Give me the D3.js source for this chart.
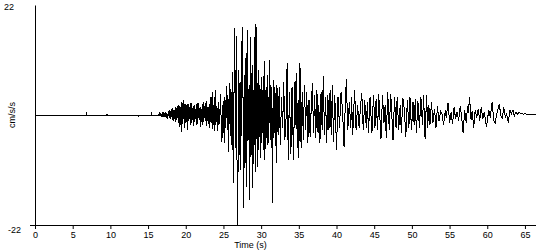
<!DOCTYPE html>
<html>
<head>
<meta charset="utf-8">
<script src="https://cdn.jsdelivr.net/npm/d3@7"></script>
<style>
body { margin: 0; background: #fff; }
</style>
</head>
<body>
<svg id="chart" width="550" height="250"></svg>
<script>
// accelerogram, [time (s), cm/s/s]
var quiet = [[0,0],[6.8,0],[6.85,0.25],[6.9,0],[9.5,0],[9.55,0.2],[9.6,0],[13.7,0],[13.75,-0.15],[13.8,0],
    [15.4,0],[15.45,0.25],[15.5,0],[16.4,0]];

var onset = [[16.5,0.3],[16.6,-0.2],[16.7,0.4],[16.8,-0.3],[16.9,0.2],[17.0,-0.4],[17.1,0.5],[17.2,-0.3],
    [17.3,0.6],[17.4,-0.5],[17.5,0.4],[17.6,-0.7],[17.7,0.8],[17.8,-0.6],[17.9,0.9],[18.0,-0.8],[18.1,1.1],
    [18.2,-0.9],[18.3,1.3],[18.4,-1.2],[18.5,0.9],[18.6,-1.4],[18.7,1.6],[18.8,-1.0],[18.9,1.8],[19.0,-1.5],
    [19.1,2.0],[19.2,-2.4],[19.3,1.5],[19.4,-3.4],[19.5,2.6],[19.6,-1.8],[19.7,3.0],[19.8,-2.5],[19.9,2.2],
    [20.0,-1.6],[20.1,1.9],[20.2,-3.0],[20.3,2.1],[20.4,-1.2],[20.5,1.6],[20.6,-2.0],[20.7,2.4],[20.8,-1.5],
    [20.9,1.3],[21.0,-2.2],[21.1,2.0],[21.2,-1.4],[21.3,1.1],[21.4,-1.9],[21.5,2.4],[21.6,-1.7],[21.7,2.3],
    [21.8,-1.0],[21.9,1.5],[22.0,-2.3],[22.1,1.2],[22.2,-2.0],[22.3,2.5],[22.4,-1.4],[22.5,1.8],[22.6,-1.1],
    [22.7,2.8],[22.8,-2.1],[22.9,1.6],[23.0,-1.8],[23.1,2.2],[23.2,-2.6],[23.3,3.5],[23.4,-1.5],[23.5,4.6],
    [23.6,-2.8],[23.7,2.0],[23.8,-3.2],[23.9,5.0],[24.0,-2.0],[24.1,1.8],[24.2,-3.1],[24.3,2.5],[24.4,-1.9],
    [24.5,-1.2],[24.6,4.2],[24.7,-1.0],[24.8,-5.4],[24.9,1.5]];

var strong = [[25.0,2.8],[25.1,-5.5],[25.2,3.6],[25.3,-2.5],[25.4,5.7],[25.5,-3.0],[25.6,4.0],[25.7,-7.3],
    [25.8,6.4],[25.9,-4.2],[26.0,5.2],[26.1,-6.0],[26.2,8.5],[26.3,-13.6],[26.4,4.0],[26.5,17.3],[26.6,-6.5],
    [26.7,15.8],[26.8,-9.0],[26.9,-22.0],[27.0,9.0],[27.1,-8.0],[27.2,6.5],[27.3,-11.0],[27.4,10.0],[27.5,17.5],
    [27.6,3.0],[27.7,-18.6],[27.8,8.0],[27.9,-9.5],[28.0,12.4],[28.1,-14.3],[28.2,17.0],[28.3,-5.0],[28.4,6.0],
    [28.5,-17.0],[28.6,15.6],[28.7,-8.0],[28.8,10.0],[28.9,-14.5],[29.0,5.0],[29.1,-6.0],[29.2,18.2],[29.3,-11.3],
    [29.4,17.6],[29.5,-10.4],[29.6,9.0],[29.7,-7.0],[29.8,6.0],[29.9,-8.5],[30.0,7.5],[30.1,-5.5],[30.2,5.0],
    [30.3,-7.0],[30.4,10.7],[30.5,-9.0],[30.6,5.0],[30.7,-4.5],[30.8,8.0],[30.9,-6.0],[31.0,-3.0],[31.1,11.0],
    [31.2,-5.0],[31.3,6.0],[31.4,2.0],[31.5,-17.6],[31.6,7.0],[31.7,-4.5],[31.8,5.5],[31.9,3.0],[32.0,-9.5]];

var middle = [[32.1,6.0],[32.25,-4.0],[32.4,5.5],[32.55,-6.0],[32.7,3.5],[32.85,-2.5],[33.0,6.5],[33.15,-5.0],
    [33.3,-1.0],[33.45,10.3],[33.6,-9.0],[33.75,4.5],[33.95,-7.8],[34.1,5.5],[34.3,-9.0],[34.45,6.5],
    [34.5,-2.0],[34.65,8.3],[34.8,-6.5],[34.9,3.0],[35.0,-8.6],[35.15,10.4],[35.3,-6.5],[35.45,4.5],[35.6,-5.0],
    [35.75,6.0],[35.9,-3.0],[36.05,4.5],[36.2,-5.5],[36.35,3.0],[36.5,-4.3],[36.65,1.5],[36.8,6.4],[36.95,-3.5],
    [37.1,4.0],[37.25,-4.5],[37.4,5.0],[37.55,-3.5],[37.65,2.0],[37.8,-5.5],[37.95,4.5],[38.1,-3.0],[38.25,7.7],
    [38.4,-4.0],[38.55,3.5],[38.7,-5.5],[38.85,4.0],[39.0,-3.0],[39.15,5.0],[39.3,-4.0],[39.45,6.0],[39.6,-5.3],
    [39.75,4.0],[39.85,1.0],[40.0,-7.0]];

var coda = [[40.2,3.5],[40.4,-2.5],[40.6,4.5],[40.8,1.0],[41.0,-6.3],[41.15,1.5],[41.3,7.1],[41.5,-3.0],
    [41.7,2.5],[41.9,-2.5],[42.0,3.5],[42.15,-4.0],[42.4,5.0],[42.6,-3.0],[42.8,2.0],[43.0,-2.5],[43.15,1.0],
    [43.35,4.4],[43.55,-3.0],[43.75,3.0],[43.95,-2.5],[44.1,2.5],[44.25,-3.5],[44.45,3.6],[44.7,-3.6],[44.9,4.0],
    [45.1,-2.5],[45.25,3.2],[45.45,-3.0],[45.6,4.2],[45.9,-4.8],[46.1,4.0],[46.3,-1.5],[46.45,2.0],[46.6,-4.6],
    [46.8,4.5],[47.0,-3.0],[47.2,4.2],[47.5,-5.0],[47.7,3.5],[47.9,-2.5],[48.05,3.6],[48.25,-3.0],[48.45,2.0],
    [48.6,-3.5],[48.8,3.4],[49.0,1.0],[49.2,-4.3],[49.4,3.0],[49.6,-2.5],[49.75,3.5],[49.95,-3.0],[50.15,2.5],
    [50.3,-2.0],[50.45,3.2],[50.6,-3.6],[50.8,2.8],[51.0,-2.5],[51.2,3.5],[51.4,-2.0],[51.55,3.9],[51.75,-4.7],
    [51.95,3.9],[52.1,-2.5],[52.25,2.0],[52.4,-2.0],[52.6,2.5],[52.8,-1.5],[53.0,1.2],[53.2,-2.5],[53.4,1.7],
    [53.6,-1.3],[53.8,0.8],[54.0,0.2],[54.2,-2.0],[54.45,1.0],[54.55,-0.5],[54.8,2.4],[55.0,-1.5],[55.2,0.5],
    [55.4,-1.8],[55.6,1.5],[55.8,-0.8],[56.0,0.6],[56.2,-1.2],[56.4,1.7],[56.55,0.3],[56.8,-3.6],[57.0,1.0],
    [57.2,-1.5],[57.4,1.8],[57.5,0.5],[57.65,3.5],[57.85,-1.0],[58.0,0.8],[58.2,-2.6],[58.4,1.0],[58.6,-0.5],
    [58.8,1.2],[59.0,-1.1],[59.2,1.6],[59.4,-0.8],[59.6,0.5],[59.9,-2.3],[60.2,1.0],[60.4,-0.5],[60.65,2.6],
    [60.85,-1.0],[61.05,-1.6],[61.3,0.5],[61.6,2.2],[61.8,-0.2],[62.0,-0.6],[62.2,1.5],[62.4,-0.5],[62.55,0.3],
    [62.8,-1.5],[63.0,1.0],[63.2,0.2],[63.4,1.0],[63.6,-0.2],[63.8,0.6],[64.0,0.1],[64.2,0.6],[64.4,0.3],
    [64.6,0.4],[64.8,0.1],[65.0,0.3],[65.2,0.1],[65.5,0.2],[65.8,0.1],[66.1,0.1],[66.4,0.0]];

var xTicks = [0,5,10,15,20,25,30,35,40,45,50,55,60,65];
var yLabels = [22,-22];
var xTitle = "Time (s)";
var yTitle = "cm/s/s";

var font = "'Liberation Sans', Arial, sans-serif";
var svg = d3.select("#chart");

var x = d3.scaleLinear().domain([0, 66.4]).range([35, 535.5]);
var y = d3.scaleLinear().domain([-22, 22]).range([225, 5]);

var record = quiet.concat(onset, strong, middle, coda);

// the trace, drawn without smoothing like the old plotter output
var line = d3.line()
    .x(function(d){ return x(d[0]); })
    .y(function(d){ return y(d[1]); });

svg.append("path")
    .datum(record)
    .attr("d", line)
    .attr("fill", "none")
    .attr("stroke", "black")
    .attr("stroke-width", 1)
    .attr("shape-rendering", "crispEdges");

// axes
var gx = svg.append("g")
    .attr("transform", "translate(0," + y(-22) + ")")
    .call(d3.axisBottom(x).tickValues(xTicks).tickSize(4).tickSizeOuter(0));

var gy = svg.append("g")
    .attr("transform", "translate(" + x(0) + ",0)")
    .call(d3.axisLeft(y).tickValues([-22]).tickSize(5).tickSizeOuter(0).tickFormat(""));

svg.selectAll(".domain, .tick line").attr("stroke", "black");
gx.selectAll("text")
    .attr("fill", "black")
    .style("font-family", font)
    .style("font-size", "9px");

// the two y labels sit at the top and bottom of the axis
svg.selectAll(".ylab")
    .data(yLabels)
    .enter()
    .append("text")
    .attr("class", "ylab")
    .attr("x", function(d){ return d > 0 ? 4 : 8; })
    .attr("y", function(d){ return d > 0 ? y(d) + 5 : y(d) + 8; })
    .style("font-family", font)
    .style("font-size", "9px")
    .text(function(d){ return d; });

svg.append("text")
    .attr("transform", "translate(15," + y(0) + ") rotate(-90)")
    .attr("text-anchor", "middle")
    .style("font-family", font)
    .style("font-size", "9px")
    .text(yTitle);

svg.append("text")
    .attr("x", 250.5)
    .attr("y", 248)
    .attr("text-anchor", "middle")
    .style("font-family", font)
    .style("font-size", "9px")
    .text(xTitle);
</script>
</body>
</html>
